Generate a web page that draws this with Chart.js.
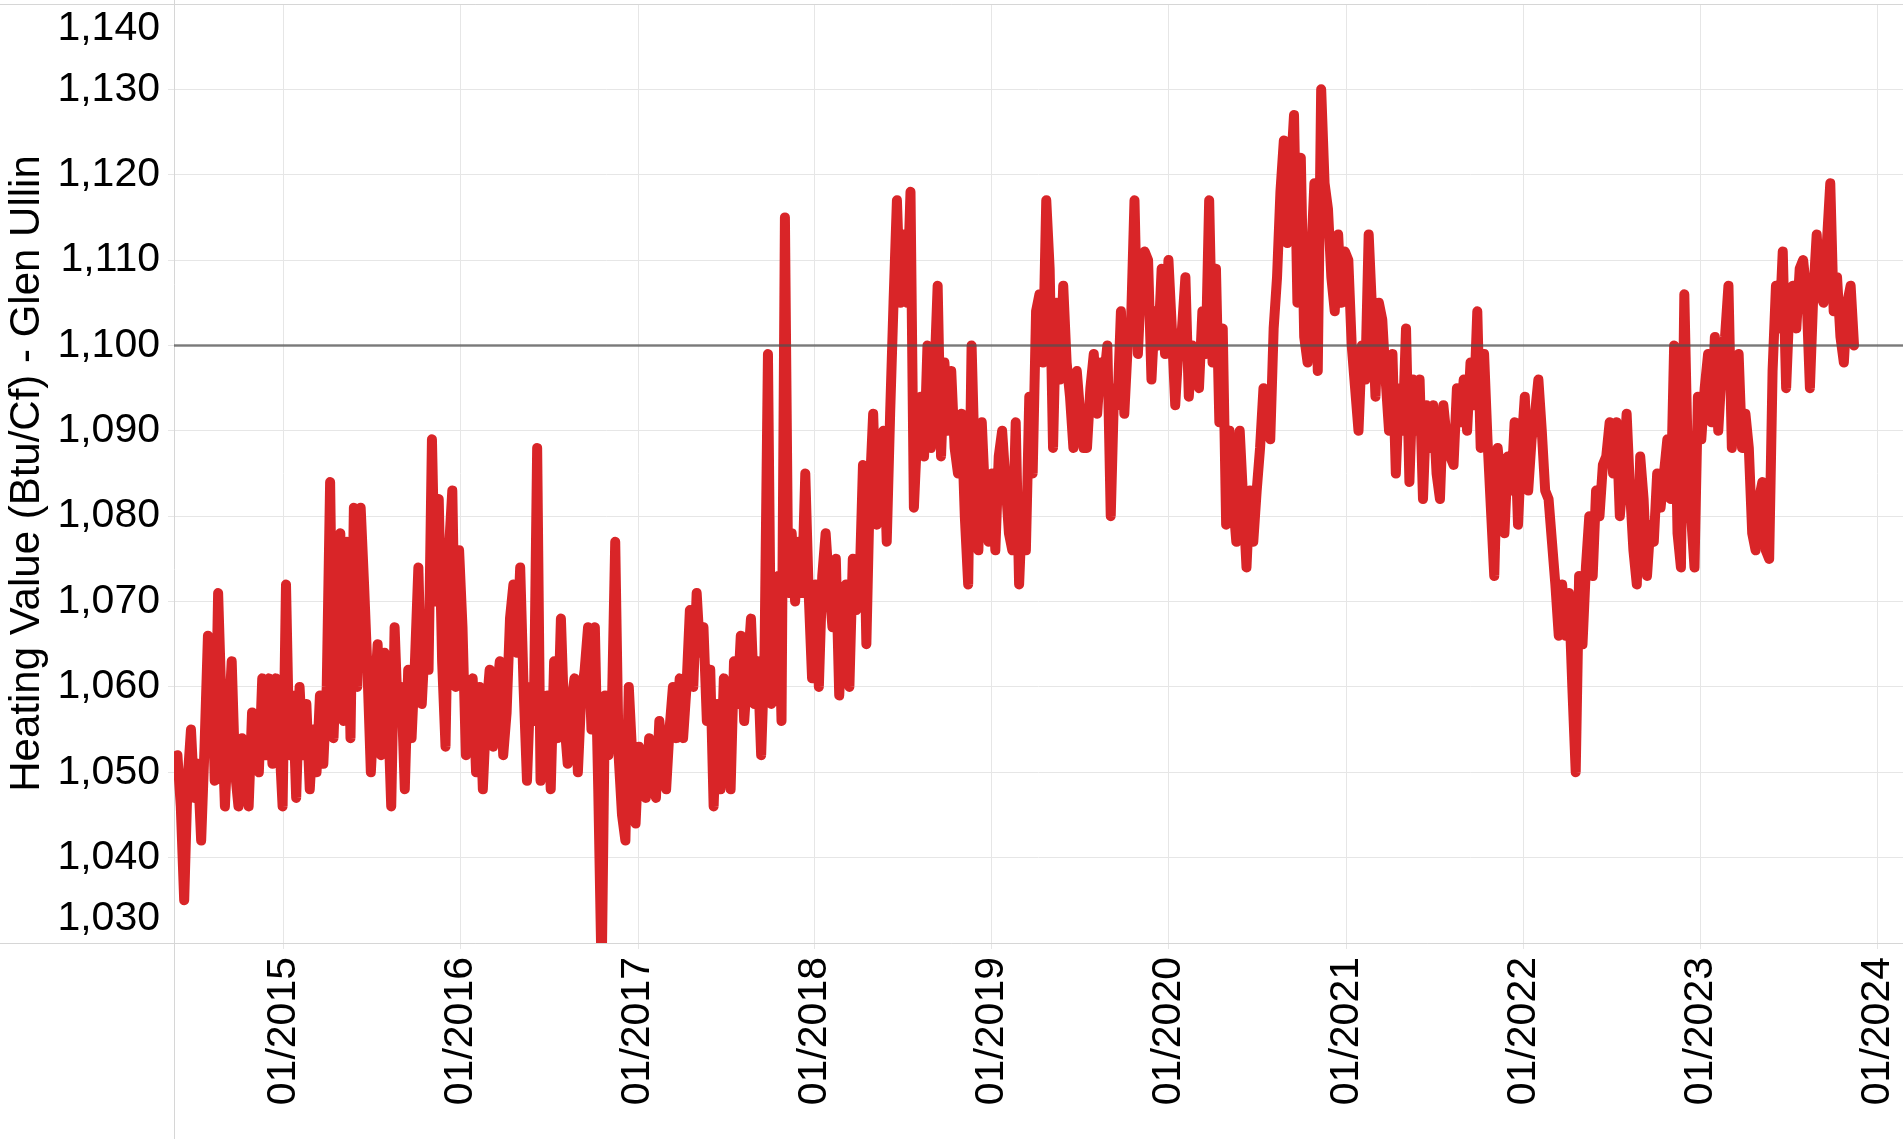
<!DOCTYPE html>
<html>
<head>
<meta charset="utf-8">
<title>Heating Value - Glen Ullin</title>
<script src="https://cdn.jsdelivr.net/npm/chart.js@4.4.1/dist/chart.umd.min.js"></script>
<style>
    html, body { margin: 0; padding: 0; background: #ffffff; }
    #wrap { width: 1903px; height: 1139px; }
</style>
</head>
<body>
<div id="wrap"><canvas id="heatChart" width="1903" height="1139"></canvas></div>
<script>
// weekly readings, first one on startDate
const startDate = '2014-05-20';
const stepDays = 7;

const heatingValues = [
    1050, 1052, 1046, 1035, 1049, 1055, 1047, 1051, 1042, 1053,
    1066, 1065, 1049, 1071, 1058, 1046, 1055, 1063, 1050, 1046,
    1054, 1050, 1046, 1057, 1052, 1050, 1061, 1052, 1061, 1051,
    1061, 1054, 1046, 1072, 1052, 1059, 1047, 1060, 1052, 1058,
    1048, 1055, 1050, 1059, 1051, 1060, 1084, 1054, 1065, 1078,
    1056, 1077, 1054, 1081, 1060, 1081, 1072, 1062, 1050, 1058,
    1065, 1052, 1064, 1058, 1046, 1067, 1056, 1060, 1048, 1062,
    1054, 1063, 1074, 1058, 1066, 1062, 1089, 1070, 1082, 1063,
    1053, 1076, 1083, 1060, 1076, 1067, 1052, 1058, 1061, 1050,
    1060, 1048, 1057, 1062, 1053, 1059, 1063, 1052, 1057, 1068,
    1072, 1064, 1074, 1060, 1049, 1060, 1056, 1088, 1049, 1055,
    1059, 1048, 1063, 1054, 1068, 1056, 1051, 1058, 1061, 1050,
    1059, 1062, 1067, 1055, 1067, 1048, 1026, 1059, 1052, 1057,
    1077, 1052, 1045, 1042, 1060, 1052, 1044, 1053, 1048, 1047,
    1054, 1049, 1047, 1056, 1052, 1048, 1055, 1060, 1054, 1061,
    1054, 1060, 1069, 1060, 1071, 1064, 1067, 1056, 1062, 1046,
    1058, 1048, 1061, 1054, 1048, 1063, 1058, 1066, 1056, 1062,
    1068, 1058, 1063, 1052, 1064, 1099, 1058, 1066, 1073, 1056,
    1115, 1071, 1078, 1070, 1077, 1071, 1085, 1071, 1061, 1072,
    1060, 1073, 1078, 1072, 1067, 1075, 1059, 1068, 1072, 1060,
    1075, 1069, 1072, 1086, 1065, 1083, 1092, 1079, 1086, 1090,
    1077, 1092, 1105, 1117, 1105, 1113, 1105, 1118, 1081, 1090,
    1094, 1087, 1100, 1088, 1096, 1107, 1087, 1098, 1090, 1097,
    1088, 1085, 1092, 1080, 1072, 1100, 1085, 1076, 1091, 1082,
    1077, 1085, 1076, 1087, 1090, 1084, 1078, 1076, 1091, 1072,
    1082, 1076, 1094, 1085, 1104, 1106, 1098, 1117, 1109, 1088,
    1105, 1096, 1107, 1098, 1094, 1088, 1097, 1092, 1088, 1088,
    1095, 1099, 1092, 1098, 1096, 1100, 1080, 1095, 1093, 1104,
    1092, 1100, 1103, 1117, 1099, 1108, 1111, 1110, 1096, 1104,
    1100, 1109, 1099, 1110, 1102, 1093, 1100, 1102, 1108, 1094,
    1100, 1097, 1095, 1104, 1099, 1117, 1098, 1109, 1091, 1102,
    1079, 1090, 1082, 1077, 1090, 1082, 1074, 1083, 1077, 1083,
    1088, 1095, 1092, 1089, 1102, 1108, 1118, 1124, 1112, 1120,
    1127, 1105, 1122, 1101, 1098, 1110, 1119, 1097, 1130, 1119,
    1116, 1108, 1104, 1113, 1105, 1111, 1110, 1100, 1095, 1090,
    1100, 1096, 1113, 1104, 1094, 1105, 1103, 1096, 1090, 1099,
    1085, 1095, 1090, 1102, 1084, 1096, 1090, 1096, 1082, 1093,
    1088, 1093, 1085, 1082, 1093, 1089, 1087, 1086, 1095, 1091,
    1096, 1090, 1098, 1093, 1104, 1088, 1099, 1089, 1081, 1073,
    1088, 1084, 1078, 1087, 1083, 1091, 1079, 1088, 1094, 1083,
    1089, 1092, 1096, 1090, 1083, 1082, 1077, 1072, 1066, 1072,
    1066, 1071, 1060, 1050, 1073, 1065, 1074, 1080, 1073, 1083,
    1080, 1086, 1087, 1091, 1085, 1091, 1080, 1085, 1092, 1083,
    1076, 1072, 1087, 1082, 1073, 1079, 1077, 1085, 1081, 1085,
    1089, 1082, 1100, 1078, 1074, 1106, 1087, 1080, 1074, 1094,
    1089, 1095, 1099, 1091, 1101, 1090, 1097, 1101, 1107, 1088,
    1096, 1099, 1088, 1092, 1088, 1078, 1076, 1082, 1084, 1076,
    1075, 1097, 1107, 1102, 1111, 1095, 1105, 1107, 1102, 1109,
    1110, 1106, 1095, 1106, 1113, 1106, 1105, 1112, 1119, 1104,
    1108, 1101, 1098, 1105, 1107, 1100
];

const yearTicks = [2015, 2016, 2017, 2018, 2019, 2020, 2021, 2022, 2023, 2024];
const yTickValues = [1030, 1040, 1050, 1060, 1070, 1080, 1090, 1100, 1110, 1120, 1130, 1140];
const referenceValue = 1100;
const axisStart = '2014-05-20';
const axisEnd = '2024-02-23';
const axisTitle = 'Heating Value (Btu/Cf) - Glen Ullin';

document.addEventListener("DOMContentLoaded", function () {

    const DAY = 86400000;
    const t0 = Date.parse(startDate);
    const xMin = Date.parse(axisStart);
    const xMax = Date.parse(axisEnd);

    const points = heatingValues.map((v, i) => ({ x: t0 + i * stepDays * DAY, y: v }));

    const labelFont = { family: "'Liberation Sans', Arial, sans-serif", size: 41 };

    // light pane borders that run across the whole picture
    const paneLines = {
        id: 'paneLines',
        beforeDatasetsDraw(chart) {
            const c = chart.ctx;
            const a = chart.chartArea;
            c.save();
            c.strokeStyle = '#d6d6d6';
            c.lineWidth = 1;
            c.beginPath();
            c.moveTo(a.left + 0.5, 0);
            c.lineTo(a.left + 0.5, chart.height);
            c.moveTo(0, a.bottom + 0.5);
            c.lineTo(chart.width, a.bottom + 0.5);
            c.moveTo(0, a.top + 0.5);
            c.lineTo(chart.width, a.top + 0.5);
            c.stroke();
            c.restore();
        }
    };

    const ctx = document.getElementById('heatChart');

    new Chart(ctx, {
        type: 'line',
        data: {
            datasets: [
                {
                    label: 'Reference',
                    data: [{ x: xMin, y: referenceValue }, { x: xMax, y: referenceValue }],
                    borderColor: 'rgba(80,80,80,0.72)',
                    borderWidth: 2.5,
                    pointRadius: 0,
                    order: 0,
                    clip: 0
                },
                {
                    label: 'Heating Value',
                    data: points,
                    borderColor: '#d92528',
                    borderWidth: 10,
                    borderJoinStyle: 'round',
                    borderCapStyle: 'round',
                    pointRadius: 0,
                    tension: 0,
                    order: 1,
                    clip: 0
                }
            ]
        },
        options: {
            responsive: false,
            animation: false,
            events: [],
            layout: { padding: { top: 4, left: 0, right: 0, bottom: 0 } },
            plugins: {
                legend: { display: false },
                tooltip: { enabled: false }
            },
            scales: {
                x: {
                    type: 'linear',
                    min: xMin,
                    max: xMax,
                    afterBuildTicks: function (scale) {
                        scale.ticks = yearTicks.map(y => ({ value: Date.UTC(y, 0, 1) }));
                    },
                    afterFit: function (scale) {
                        scale.height = 196;
                        scale.paddingLeft = 0;
                        scale.paddingRight = 0;
                    },
                    ticks: {
                        autoSkip: false,
                        minRotation: 90,
                        maxRotation: 90,
                        padding: 8,
                        color: '#000000',
                        font: labelFont,
                        callback: function (value) {
                            return '01/' + new Date(value).getUTCFullYear();
                        }
                    },
                    grid: { color: '#e6e6e6', lineWidth: 1, tickLength: 6 },
                    border: { display: false }
                },
                y: {
                    min: 1030,
                    max: 1140,
                    afterBuildTicks: function (scale) {
                        scale.ticks = yTickValues.map(v => ({ value: v }));
                    },
                    afterFit: function (scale) {
                        scale.width = 174;
                        scale.paddingTop = 0;
                        scale.paddingBottom = 0;
                    },
                    ticks: {
                        autoSkip: false,
                        padding: 8,
                        color: '#000000',
                        font: labelFont,
                        callback: function (value) {
                            const s = value.toLocaleString('en-US');
                            if (value === 1140) return ['', s];
                            if (value === 1030) return [s, ''];
                            return s;
                        }
                    },
                    grid: { color: '#e6e6e6', lineWidth: 1, tickLength: 6 },
                    border: { display: false },
                    title: {
                        display: true,
                        text: axisTitle,
                        color: '#000000',
                        font: { family: "'Liberation Sans', Arial, sans-serif", size: 42 },
                        padding: { top: 2, bottom: 0 }
                    }
                }
            }
        },
        plugins: [paneLines]
    });

});
</script>
</body>
</html>
